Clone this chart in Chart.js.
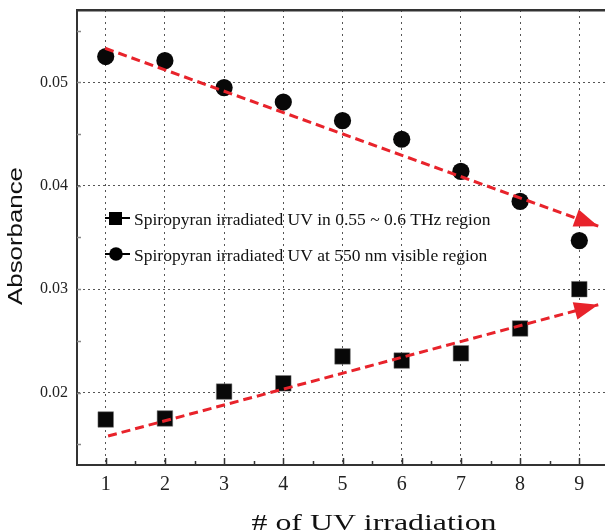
<!DOCTYPE html>
<html>
<head>
<meta charset="utf-8">
<title>Absorbance vs UV irradiation</title>
<script src="https://cdn.jsdelivr.net/npm/chart.js@4.4.0/dist/chart.umd.min.js"></script>
<style>
  html, body { margin: 0; padding: 0; background: #fff; }
  canvas { display: block; }
</style>
</head>
<body>
<canvas id="chart" width="605" height="532"></canvas>
<script>
// number of UV irradiation steps
const irradiations = [1, 2, 3, 4, 5, 6, 7, 8, 9];
// absorbance in the 0.55 ~ 0.6 THz region
const thzAbsorbance = [0.0174, 0.0175, 0.0201, 0.0209, 0.0235, 0.0231, 0.0238, 0.0262, 0.0300];
// absorbance at 550 nm (visible)
const visAbsorbance = [0.0525, 0.0521, 0.0495, 0.0481, 0.0463, 0.0445, 0.0414, 0.0385, 0.0347];

// trend arrows, start -> tip
const thzTrendX = [1.04, 9.32];
const thzTrendY = [0.0158, 0.0285];
const visTrendX = [0.99, 9.32];
const visTrendY = [0.0533, 0.0361];

const xTicks = [1, 2, 3, 4, 5, 6, 7, 8, 9];
const yTicks = [0.02, 0.03, 0.04, 0.05];

const seriesLabels = [
  'Spiropyran irradiated UV in 0.55 ~ 0.6 THz region',
  'Spiropyran irradiated UV at 550 nm visible region'
];
const xTitle = '# of UV irradiation';
const yTitle = 'Absorbance';

const RED = '#e8232b';
const SERIF = '"Liberation Serif", "Times New Roman", serif';

function toPoints(xs, ys) {
  return xs.map((x, i) => ({ x: x, y: ys[i] }));
}

// keep the plot box fixed: no extra room for edge labels
function noEdgePadding(s) {
  s.paddingLeft = 0;
  s.paddingRight = 0;
  s.paddingTop = 0;
  s.paddingBottom = 0;
}

// arrowheads at the end of the trend lines
const arrowHeads = {
  id: 'arrowHeads',
  afterDatasetsDraw(chart) {
    const ctx = chart.ctx;
    chart.data.datasets.forEach((ds, i) => {
      if (!ds.arrow) return;
      const pts = chart.getDatasetMeta(i).data;
      const a = pts[pts.length - 2], b = pts[pts.length - 1];
      const ang = Math.atan2(b.y - a.y, b.x - a.x);
      const len = 24, half = 9;
      ctx.save();
      ctx.translate(b.x, b.y);
      ctx.rotate(ang);
      ctx.fillStyle = RED;
      ctx.beginPath();
      ctx.moveTo(0, 0);
      ctx.lineTo(-len, -half);
      ctx.lineTo(-len, half);
      ctx.closePath();
      ctx.fill();
      ctx.restore();
    });
  }
};

// short inward tick marks on the left and bottom axes
const innerTicks = {
  id: 'innerTicks',
  afterDraw(chart) {
    const { ctx, chartArea: area, scales } = chart;
    ctx.save();
    ctx.strokeStyle = '#333';
    ctx.lineWidth = 1.5;
    ctx.beginPath();
    for (let k = 2; k <= 18; k++) {
      const px = Math.round(scales.x.getPixelForValue(k / 2)) + 0.5;
      const len = k % 2 === 0 ? 7 : 4;
      ctx.moveTo(px, area.bottom);
      ctx.lineTo(px, area.bottom - len);
    }
    ctx.stroke();
    ctx.strokeStyle = '#888';
    ctx.beginPath();
    for (let k = 3; k <= 11; k++) {
      const py = Math.round(scales.y.getPixelForValue(k * 0.005)) + 0.5;
      ctx.moveTo(area.left, py);
      ctx.lineTo(area.left + 4, py);
    }
    ctx.stroke();
    ctx.restore();
  }
};

// legend inside the plot: line with marker, then label
const insideLegend = {
  id: 'insideLegend',
  afterDraw(chart) {
    const ctx = chart.ctx;
    const rows = [
      { y: 218, style: 'rect', text: seriesLabels[0] },
      { y: 254, style: 'circle', text: seriesLabels[1] }
    ];
    ctx.save();
    rows.forEach(r => {
      ctx.strokeStyle = '#000';
      ctx.lineWidth = 2;
      ctx.beginPath();
      ctx.moveTo(105, r.y);
      ctx.lineTo(130, r.y);
      ctx.stroke();
      ctx.fillStyle = '#000';
      if (r.style === 'rect') {
        ctx.fillRect(109, r.y - 6, 13, 13);
      } else {
        ctx.beginPath();
        ctx.arc(116, r.y, 6.8, 0, Math.PI * 2);
        ctx.fill();
      }
      ctx.font = '17.5px ' + SERIF;
      ctx.textBaseline = 'alphabetic';
      ctx.textAlign = 'left';
      ctx.fillStyle = '#111';
      ctx.fillText(r.text, 134, r.y + 7);
    });
    ctx.restore();
  }
};

// axis titles, stretched along their length
const axisTitles = {
  id: 'axisTitles',
  afterDraw(chart) {
    const ctx = chart.ctx;
    ctx.save();
    ctx.fillStyle = '#111';
    ctx.textAlign = 'center';
    ctx.textBaseline = 'alphabetic';

    ctx.font = '23px ' + SERIF;
    let sx = 245 / ctx.measureText(xTitle).width;
    ctx.save();
    ctx.translate(374, 530);
    ctx.scale(sx, 1);
    ctx.fillText(xTitle, 0, 0);
    ctx.restore();

    ctx.font = '20px "Liberation Sans", Arial, sans-serif';
    sx = 138 / ctx.measureText(yTitle).width;
    ctx.save();
    ctx.translate(22, 236);
    ctx.rotate(-Math.PI / 2);
    ctx.scale(sx, 1);
    ctx.fillText(yTitle, 0, 0);
    ctx.restore();

    ctx.restore();
  }
};

new Chart(document.getElementById('chart'), {
  type: 'scatter',
  data: {
    datasets: [
      {
        label: seriesLabels[0],
        data: toPoints(irradiations, thzAbsorbance),
        pointStyle: 'rect',
        pointRadius: 11,
        backgroundColor: '#080808',
        borderColor: '#777',
        borderWidth: 0.5,
        order: 1
      },
      {
        label: seriesLabels[1],
        data: toPoints(irradiations, visAbsorbance),
        pointStyle: 'circle',
        pointRadius: 8.6,
        backgroundColor: '#080808',
        borderColor: '#080808',
        borderWidth: 0,
        order: 1
      },
      {
        type: 'line',
        data: toPoints(thzTrendX, thzTrendY),
        arrow: true,
        showLine: true,
        borderColor: RED,
        borderWidth: 3,
        borderDash: [9, 5],
        pointRadius: 0,
        order: 0
      },
      {
        type: 'line',
        data: toPoints(visTrendX, visTrendY),
        arrow: true,
        showLine: true,
        borderColor: RED,
        borderWidth: 3,
        borderDash: [9, 5],
        pointRadius: 0,
        order: 0
      }
    ]
  },
  options: {
    responsive: false,
    animation: false,
    layout: { autoPadding: false, padding: { left: 0, right: 0, top: 10, bottom: 0 } },
    plugins: {
      legend: { display: false },
      tooltip: { enabled: false }
    },
    scales: {
      x: {
        type: 'linear',
        position: 'bottom',
        min: 0.515,
        max: 9.434,
        afterBuildTicks: s => { s.ticks = xTicks.map(v => ({ value: v })); },
        afterFit: s => { s.height = 67; noEdgePadding(s); },
        grid: { color: '#555', lineWidth: 1, drawTicks: false },
        border: { display: true, color: '#333', width: 2, dash: [2, 4] },
        ticks: {
          padding: 8,
          color: '#222',
          font: { family: SERIF, size: 20 },
          callback: v => String(v)
        }
      },
      xTop: {
        type: 'linear',
        position: 'top',
        min: 0.515,
        max: 9.434,
        afterFit: s => { s.height = 0; noEdgePadding(s); },
        grid: { display: false },
        ticks: { display: false },
        border: { display: true, color: '#333', width: 2.5 }
      },
      y: {
        type: 'linear',
        min: 0.013,
        max: 0.057,
        afterBuildTicks: s => { s.ticks = yTicks.map(v => ({ value: v })); },
        afterFit: s => { s.width = 77; noEdgePadding(s); },
        grid: { color: '#555', lineWidth: 1, drawTicks: false },
        border: { display: true, color: '#333', width: 2, dash: [2, 3] },
        ticks: {
          padding: 9,
          color: '#222',
          font: { family: SERIF, size: 16 },
          callback: v => v.toFixed(2)
        }
      }
    }
  },
  plugins: [arrowHeads, innerTicks, insideLegend, axisTitles]
});
</script>
</body>
</html>
